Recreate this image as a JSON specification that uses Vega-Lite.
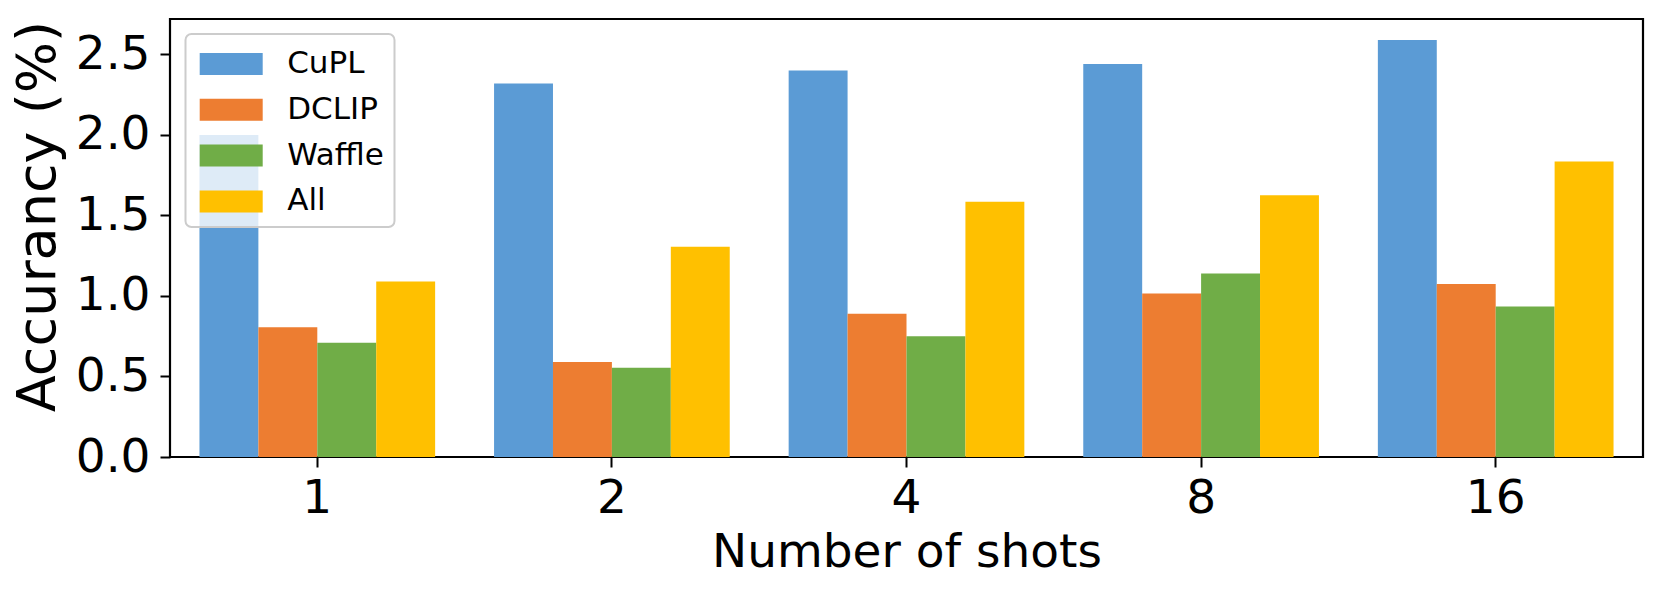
{
  "$schema": "https://vega.github.io/schema/vega-lite/v6.json",
  "autosize": "none",
  "width": 1473,
  "height": 438,
  "padding": {"left": 170, "top": 19, "right": 19, "bottom": 141},
  "background": "white",
  "config": {
    "font": "DejaVu Sans",
    "view": {"stroke": "#000000", "strokeWidth": 2.2},
    "axis": {"grid": false, "domain": false, "tickColor": "#000000", "tickWidth": 2, "tickSize": 10, "labelColor": "#000000", "titleColor": "#000000", "labelFont": "DejaVu Sans", "titleFont": "DejaVu Sans", "titleFontWeight": "normal", "labelFontSize": 47, "titleFontSize": 47},
    "legend": {"strokeWidth": 2, "strokeColor": "#cccccc"}
  },
  "data": {
    "values": [
      {"shots": "1", "method": "CuPL", "acc": 2.0},
      {"shots": "1", "method": "DCLIP", "acc": 0.805},
      {"shots": "1", "method": "Waffle", "acc": 0.71},
      {"shots": "1", "method": "All", "acc": 1.09},
      {"shots": "2", "method": "CuPL", "acc": 2.32},
      {"shots": "2", "method": "DCLIP", "acc": 0.59},
      {"shots": "2", "method": "Waffle", "acc": 0.555},
      {"shots": "2", "method": "All", "acc": 1.305},
      {"shots": "4", "method": "CuPL", "acc": 2.4},
      {"shots": "4", "method": "DCLIP", "acc": 0.89},
      {"shots": "4", "method": "Waffle", "acc": 0.75},
      {"shots": "4", "method": "All", "acc": 1.585},
      {"shots": "8", "method": "CuPL", "acc": 2.44},
      {"shots": "8", "method": "DCLIP", "acc": 1.015},
      {"shots": "8", "method": "Waffle", "acc": 1.14},
      {"shots": "8", "method": "All", "acc": 1.625},
      {"shots": "16", "method": "CuPL", "acc": 2.59},
      {"shots": "16", "method": "DCLIP", "acc": 1.075},
      {"shots": "16", "method": "Waffle", "acc": 0.935},
      {"shots": "16", "method": "All", "acc": 1.835}
    ]
  },
  "mark": {"type": "bar", "cornerRadius": 0},
  "encoding": {
    "x": {
      "field": "shots", "type": "nominal",
      "sort": ["1", "2", "4", "8", "16"],
      "scale": {"paddingInner": 0.2, "paddingOuter": 0.1},
      "axis": {"title": "Number of shots", "labelAngle": 0, "labelPadding": 8, "titlePadding": 8}
    },
    "xOffset": {
      "field": "method", "type": "nominal",
      "sort": ["CuPL", "DCLIP", "Waffle", "All"],
      "scale": {"paddingInner": 0, "paddingOuter": 0}
    },
    "y": {
      "field": "acc", "type": "quantitative",
      "scale": {"domain": [0, 2.72], "nice": false, "zero": true},
      "axis": {"title": "Accurancy (%)", "values": [0, 0.5, 1, 1.5, 2, 2.5], "format": ".1f", "labelPadding": 10, "titlePadding": 10, "titleFontSize": 54, "titleY": 197, "titleAlign": "center"}
    },
    "color": {
      "field": "method", "type": "nominal",
      "scale": {"domain": ["CuPL", "DCLIP", "Waffle", "All"], "range": ["#5B9BD5", "#ED7D31", "#70AD47", "#FFC000"]},
      "legend": {
        "title": null,
        "orient": "none",
        "legendX": 15.5,
        "legendY": 15,
        "symbolType": "M-1.575,-0.55H1.575V0.55H-1.575Z",
        "symbolSize": 1600,
        "symbolOpacity": 1,
        "symbolStrokeWidth": 0,
        "symbolOffset": 15.7,
        "labelOffset": 36,
        "labelFontSize": 31,
        "labelFont": "DejaVu Sans",
        "labelColor": "#000000",
        "rowPadding": 10.8,
        "padding": 10,
        "fillColor": "rgba(255,255,255,0.8)",
        "strokeColor": "#cccccc",
        "cornerRadius": 6
      }
    }
  }
}
